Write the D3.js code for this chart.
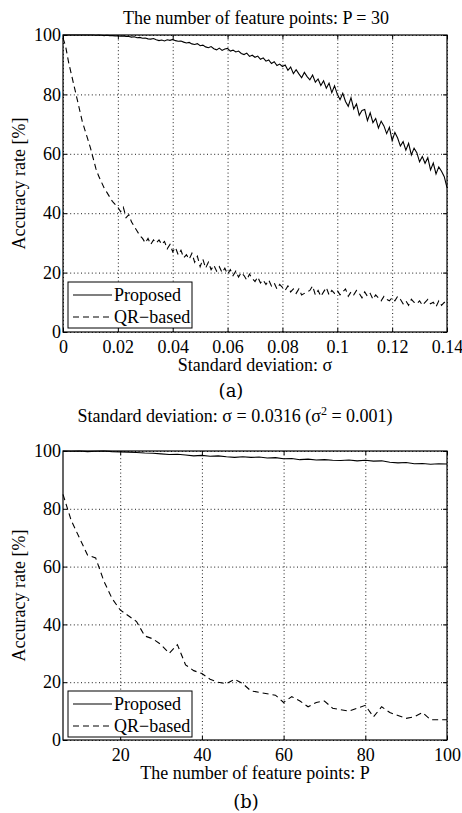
<!DOCTYPE html>
<html>
  <head>
    <meta charset="utf-8">
    <title>Accuracy rate</title>
    <script src="https://d3js.org/d3.v7.min.js"></script>
    <style>
      body { margin: 0; background: #fff; }
      svg text {
        font-family: "Liberation Serif", "Times New Roman", serif;
        font-size: 18px;
        fill: #000;
      }
      .grid .tick line {
        stroke: #000;
        stroke-width: 0.9px;
        stroke-dasharray: 1, 2.6;
      }
      .grid .domain { display: none; }
      .axis .tick line { stroke: #000; stroke-width: 1px; }
      .axis .domain { display: none; }
      .frame { fill: none; stroke: #000; stroke-width: 1.2px; }
      .line { fill: none; stroke: #000; stroke-width: 1.1px; }
      .line--qr { stroke-dasharray: 6, 4; }
      .legend rect { fill: #fff; stroke: #000; stroke-width: 1px; }
      .caption { font-family: "DejaVu Serif", serif; font-size: 18px; }
    </style>
  </head>
  <body>
    <svg width="462" height="813"></svg>
    <script>
      // (a) sigma from 0 to 0.14, step 0.001
      const sigma = d3.range(0, 141).map(i => i / 1000);
      const proposedA = [
        100,100,100,100,100,100,100,100,100,100,100,100,99.9,100,99.9,99.8,99.9,99.8,99.8,99.7,
        99.7,99.6,99.7,99.5,99.5,99.3,99.4,99.1,99.2,98.9,99.0,98.7,98.6,98.8,98.4,98.1,98.3,98.0,98.4,98.2,
        98.5,98.1,97.9,98.0,97.6,97.3,97.5,97.0,96.8,97.1,96.4,96.6,96.0,95.7,96.1,95.4,95.0,95.6,94.8,95.3,
        95.5,94.6,94.9,94.3,94.6,93.8,93.4,93.9,92.8,93.2,92.5,92.9,91.8,92.3,91.2,91.6,90.4,91.0,89.7,90.2,
        89.4,89.9,88.1,89.2,87.0,88.3,86.9,85.6,87.4,86.0,84.9,86.5,84.1,85.2,83.0,84.6,82.1,83.8,80.6,82.9,
        80.1,78.2,80.4,77.6,76.0,78.9,75.1,76.8,73.0,74.6,74.9,71.2,73.8,70.5,71.9,68.7,71.0,69.4,66.8,68.9,
        64.4,67.2,65.3,62.6,64.1,61.2,63.5,59.6,61.9,60.4,57.3,59.1,56.8,58.7,54.6,56.9,53.2,55.6,54.1,52.3,48.6
      ];
      const qrA = [
        99,96,91,87,83,79,75,71,68,65,62,58.5,55,52.5,50.5,48.5,47,45.5,44,43,
        42,40.5,42,38.5,39.5,37,35.5,34,32.5,31.5,30,31.5,29.5,31,30,31,29.5,30.5,28,29.5,
        27,28.5,26,27.5,25,26,24.5,26.5,23.5,25.5,22,24.5,21.5,23.5,21,22.5,20.5,22,20,21.5,
        19.5,21,19,20.5,18.5,20,19,17.5,19.5,18,17,18.5,16.5,17.5,16,17.5,15.5,16.5,14.5,16,
        15,14,15.5,13.5,14.5,13,14.5,12.5,13,13.5,14,15.5,12.5,14,12,13.5,15,12.5,14,13,
        14,12.5,13.5,14.5,12,13.5,12.5,14,13,11.5,13.5,12,13,11,12.5,11.5,10.5,12,11,10.5,
        11.5,10.5,12,11,9.5,10.5,9,11,10,9.5,10.5,9,10,11,9.5,10,8.5,10.5,9,10,9
      ];
      const xTicksA = [0, 0.02, 0.04, 0.06, 0.08, 0.1, 0.12, 0.14];

      // (b) number of feature points P from 6 to 100, step 2
      const points = d3.range(6, 101, 2);
      const proposedB = [
        100,99.9,100,99.8,99.9,100,99.8,99.7,99.6,99.5,99.3,99.2,99.0,98.8,98.9,98.6,
        98.3,98.5,98.2,98.3,98.0,97.8,98.0,97.8,97.9,97.6,97.7,97.3,97.4,97.0,97.2,96.9,
        97.0,96.8,96.7,96.9,96.6,96.8,96.5,96.6,96.1,95.9,96.0,95.6,95.7,95.4,95.6,95.5
      ];
      const qrB = [
        85,76,70,64,63,55,49,45,43,41,36,35,33,30,33,26,
        24,23,21,20,19.5,21,19.5,17,16.5,16,15.5,13,15,13.5,11.5,13,
        13.5,11,10.5,10,11,12,8,11.5,9.5,8.5,7.5,8,9.5,7,7,7
      ];
      const xTicksB = [20, 40, 60, 80, 100];

      const yTicks = [0, 20, 40, 60, 80, 100];
      const seriesNames = ["Proposed", "QR\u2212based"];

      const svg = d3.select("svg");
      const left = 63, right = 447;

      function panel(opt) {
        const g = svg.append("g");
        const x = d3.scaleLinear().domain(opt.xDomain).range([left, right]);
        const y = d3.scaleLinear().domain([0, 100]).range([opt.bottom, opt.top]);
        const w = right - left, h = opt.bottom - opt.top;

        // dotted grid
        g.append("g").attr("class", "grid")
          .attr("transform", `translate(0,${opt.bottom})`)
          .call(d3.axisBottom(x).tickValues(opt.xTicks).tickSize(-h).tickFormat(""));
        g.append("g").attr("class", "grid")
          .attr("transform", `translate(${left},0)`)
          .call(d3.axisLeft(y).tickValues(yTicks).tickSize(-w).tickFormat(""));

        // curves
        const line = d3.line().x((d, i) => x(opt.xs[i])).y(d => y(d));
        g.append("path").attr("class", "line").attr("d", line(opt.proposed));
        g.append("path").attr("class", "line line--qr").attr("d", line(opt.qr));

        // inward ticks on all four sides
        g.append("g").attr("class", "axis")
          .attr("transform", `translate(0,${opt.bottom})`)
          .call(d3.axisBottom(x).tickValues(opt.xTicks).tickSizeInner(-4).tickSizeOuter(0)
            .tickPadding(8).tickFormat(d3.format("~g")));
        g.append("g").attr("class", "axis")
          .attr("transform", `translate(0,${opt.top})`)
          .call(d3.axisTop(x).tickValues(opt.xTicks).tickSizeInner(-4).tickSizeOuter(0).tickFormat(""));
        g.append("g").attr("class", "axis")
          .attr("transform", `translate(${left},0)`)
          .call(d3.axisLeft(y).tickValues(yTicks).tickSizeInner(-4).tickSizeOuter(0).tickPadding(2));
        g.append("g").attr("class", "axis")
          .attr("transform", `translate(${right},0)`)
          .call(d3.axisRight(y).tickValues(yTicks).tickSizeInner(-4).tickSizeOuter(0).tickFormat(""));

        g.append("rect").attr("class", "frame")
          .attr("x", left).attr("y", opt.top).attr("width", w).attr("height", h);

        // legend
        const lg = g.append("g").attr("class", "legend")
          .attr("transform", `translate(68,${opt.legendTop})`);
        lg.append("rect").attr("width", 124).attr("height", 46);
        seriesNames.forEach((name, i) => {
          const yy = 13 + i * 22;
          lg.append("line").attr("class", i ? "line line--qr" : "line")
            .attr("x1", 5).attr("x2", 44).attr("y1", yy).attr("y2", yy);
          lg.append("text").attr("x", 46).attr("y", yy).attr("dy", "0.33em").text(name);
        });

        // labels
        g.append("text").attr("text-anchor", "middle")
          .attr("transform", `translate(25,${(opt.top + opt.bottom) / 2}) rotate(-90)`)
          .text("Accuracy rate [%]");
        g.append("text").attr("text-anchor", "middle")
          .attr("x", (left + right) / 2).attr("y", opt.bottom + 39)
          .text(opt.xLabel);
        return g;
      }

      panel({
        xDomain: [0, 0.14], xTicks: xTicksA, xs: sigma,
        proposed: proposedA, qr: qrA,
        top: 35, bottom: 332, legendTop: 282,
        xLabel: "Standard deviation: \u03c3"
      });
      svg.append("text").attr("text-anchor", "middle")
        .attr("x", 256).attr("y", 24)
        .text("The number of feature points: P = 30");
      svg.append("text").attr("class", "caption").attr("text-anchor", "middle")
        .attr("x", 231).attr("y", 397).text("(a)");

      panel({
        xDomain: [6, 100], xTicks: xTicksB, xs: points,
        proposed: proposedB, qr: qrB,
        top: 451, bottom: 740, legendTop: 691,
        xLabel: "The number of feature points: P"
      });
      const t = svg.append("text").attr("text-anchor", "middle")
        .attr("x", 235).attr("y", 422);
      t.append("tspan").text("Standard deviation: \u03c3 = 0.0316 (\u03c3");
      t.append("tspan").attr("dy", -7).style("font-size", "12px").text("2");
      t.append("tspan").attr("dy", 7).text(" = 0.001)");
      svg.append("text").attr("class", "caption").attr("text-anchor", "middle")
        .attr("x", 246).attr("y", 808).text("(b)");
    </script>
  </body>
</html>
